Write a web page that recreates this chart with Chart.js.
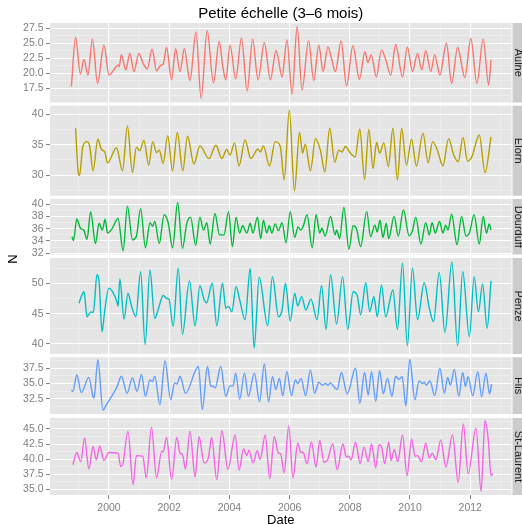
<!DOCTYPE html>
<html>
<head>
<meta charset="utf-8">
<script src="https://cdn.jsdelivr.net/npm/chart.js@4.4.0/dist/chart.umd.min.js"></script>
<style>
  body { margin: 0; background: #fff; width: 522px; height: 524px; overflow: hidden; position: relative; }
  .panel { position: absolute; left: 0; width: 522px; }
</style>
</head>
<body>
<script>
// x axis: decimal years
const yearLabels = [2000, 2002, 2004, 2006, 2008, 2010, 2012];
const yearMinor = [1999, 2001, 2003, 2005, 2007, 2009, 2011, 2013];

// [date, N] (peaks, troughs, shoulders)
const aulne = [[1998.75,17.8],[1998.89,26.0],[1999.05,19.9],[1999.17,22.3],[1999.3,19.7],[1999.45,25.7],[1999.62,18.3],[1999.83,24.7],[2000.0,19.7],[2000.22,21.0],[2000.3,21.4],[2000.34,21.1],[2000.41,23.1],[2000.56,20.55],[2000.69,23.3],[2000.83,20.3],[2000.99,23.3],[2001.13,21.7],[2001.27,20.7],[2001.43,24.0],[2001.58,20.4],[2001.71,21.3],[2001.8,21.5],[2001.91,24.3],[2002.08,18.9],[2002.21,24.1],[2002.36,20.3],[2002.5,24.1],[2002.69,18.8],[2002.89,26.9],[2003.06,15.8],[2003.26,27.1],[2003.47,18.4],[2003.66,25.3],[2003.78,21.1],[2003.88,18.9],[2004.02,24.7],[2004.21,19.05],[2004.4,25.9],[2004.59,17.05],[2004.77,25.7],[2004.95,18.9],[2005.16,25.1],[2005.36,18.9],[2005.55,23.8],[2005.75,19.4],[2005.91,25.55],[2006.08,16.55],[2006.25,27.8],[2006.41,17.2],[2006.63,25.4],[2006.8,18.8],[2006.97,24.7],[2007.11,20.3],[2007.27,24.4],[2007.39,22.5],[2007.52,20.3],[2007.71,25.4],[2007.89,17.9],[2008.1,24.55],[2008.32,19.0],[2008.5,23.6],[2008.6,21.8],[2008.71,23.05],[2008.88,19.4],[2009.05,23.9],[2009.19,22.3],[2009.36,19.7],[2009.52,24.8],[2009.75,19.4],[2009.91,24.4],[2010.08,20.3],[2010.25,23.3],[2010.39,20.55],[2010.52,23.8],[2010.69,20.3],[2010.82,23.05],[2010.99,19.7],[2011.21,25.0],[2011.38,18.3],[2011.58,24.3],[2011.82,19.3],[2012.02,25.8],[2012.22,18.3],[2012.43,25.7],[2012.61,18.05],[2012.69,22.3]];

const elorn = [[1998.89,37.7],[1998.97,30.8],[1999.02,29.9],[1999.13,34.7],[1999.27,35.5],[1999.36,34.7],[1999.47,30.7],[1999.63,35.9],[1999.75,34.2],[1999.86,33.8],[1999.95,32.0],[2000.25,34.5],[2000.45,30.7],[2000.61,38.1],[2000.78,30.4],[2000.91,34.6],[2001.02,34.0],[2001.16,35.7],[2001.32,31.6],[2001.45,35.5],[2001.58,33.7],[2001.67,34.1],[2001.8,31.9],[2001.95,36.5],[2002.11,30.7],[2002.27,37.0],[2002.45,30.7],[2002.61,36.4],[2002.82,31.8],[2003.02,34.8],[2003.32,32.7],[2003.55,34.9],[2003.75,32.7],[2003.91,34.2],[2004.02,33.3],[2004.17,35.3],[2004.32,31.5],[2004.52,35.8],[2004.71,32.7],[2004.95,34.3],[2005.03,33.8],[2005.13,34.8],[2005.33,31.5],[2005.52,35.5],[2005.69,34.7],[2005.82,29.2],[2005.99,40.7],[2006.16,27.4],[2006.33,37.0],[2006.43,33.6],[2006.52,35.1],[2006.69,30.7],[2006.86,36.0],[2007.02,34.1],[2007.17,30.5],[2007.33,37.7],[2007.5,32.1],[2007.63,34.1],[2007.74,33.8],[2007.85,34.7],[2008.02,33.6],[2008.18,33.0],[2008.33,37.6],[2008.49,29.3],[2008.63,37.5],[2008.77,31.1],[2008.89,35.4],[2008.99,33.6],[2009.13,35.3],[2009.28,31.4],[2009.43,37.7],[2009.58,29.2],[2009.72,37.7],[2009.88,31.6],[2010.05,35.9],[2010.21,31.5],[2010.43,36.9],[2010.6,32.0],[2010.75,35.5],[2010.91,34.1],[2011.09,31.5],[2011.28,36.0],[2011.45,33.3],[2011.6,32.2],[2011.76,36.2],[2011.91,32.3],[2012.05,33.0],[2012.3,36.6],[2012.49,30.4],[2012.69,36.3]];

const dourduff = [[1998.77,34.7],[1998.82,34.1],[1998.93,37.6],[1999.05,36.1],[1999.16,35.8],[1999.27,34.3],[1999.39,38.8],[1999.55,33.6],[1999.67,36.9],[1999.78,35.8],[1999.87,37.55],[1999.95,35.3],[2000.1,36.0],[2000.3,37.7],[2000.47,32.4],[2000.61,39.7],[2000.78,34.2],[2000.91,34.8],[2001.05,39.3],[2001.21,32.9],[2001.36,37.0],[2001.45,36.4],[2001.52,37.2],[2001.67,33.6],[2001.83,38.3],[2001.97,36.9],[2002.11,32.9],[2002.28,40.3],[2002.44,32.8],[2002.58,36.8],[2002.71,37.9],[2002.88,33.3],[2003.02,37.9],[2003.14,35.8],[2003.25,37.0],[2003.36,33.5],[2003.52,38.5],[2003.67,35.0],[2003.82,35.0],[2003.97,38.8],[2004.1,33.1],[2004.22,37.9],[2004.34,35.3],[2004.44,36.5],[2004.58,35.3],[2004.69,36.9],[2004.78,35.3],[2004.93,37.9],[2005.04,34.4],[2005.13,37.4],[2005.24,35.3],[2005.32,36.5],[2005.41,35.3],[2005.52,36.8],[2005.63,35.7],[2005.75,37.0],[2005.88,33.7],[2006.02,38.8],[2006.17,34.6],[2006.28,36.3],[2006.37,35.8],[2006.45,36.4],[2006.58,38.3],[2006.75,32.9],[2006.88,38.3],[2007.0,35.3],[2007.07,36.1],[2007.18,34.8],[2007.36,38.0],[2007.51,35.0],[2007.56,35.8],[2007.66,34.4],[2007.8,39.5],[2007.97,32.65],[2008.11,36.5],[2008.22,36.0],[2008.36,33.1],[2008.56,38.8],[2008.69,34.7],[2008.83,36.6],[2008.91,35.5],[2009.0,37.4],[2009.1,34.6],[2009.21,36.9],[2009.29,34.4],[2009.47,38.0],[2009.61,34.8],[2009.78,39.1],[2009.97,34.8],[2010.08,35.7],[2010.19,37.9],[2010.36,33.5],[2010.52,37.0],[2010.64,35.0],[2010.73,37.0],[2010.84,35.3],[2010.98,37.2],[2011.09,35.3],[2011.18,36.6],[2011.26,35.8],[2011.38,38.4],[2011.56,33.4],[2011.71,38.0],[2011.86,34.8],[2011.97,35.3],[2012.13,38.3],[2012.3,33.5],[2012.43,38.0],[2012.54,35.3],[2012.63,36.8],[2012.69,35.8]];

const penze = [[1999.0,46.7],[1999.08,47.8],[1999.17,48.6],[1999.27,44.5],[1999.4,45.3],[1999.48,45.2],[1999.6,51.4],[1999.67,50.3],[1999.77,42.0],[1999.86,45.6],[2000.0,49.2],[2000.12,48.6],[2000.26,47.0],[2000.3,46.2],[2000.36,50.7],[2000.5,44.1],[2000.63,48.35],[2000.74,46.4],[2000.89,44.5],[2001.05,51.9],[2001.2,39.9],[2001.36,52.2],[2001.52,44.2],[2001.63,45.6],[2001.8,48.0],[2001.92,47.5],[2001.99,47.4],[2002.13,42.9],[2002.3,52.5],[2002.44,41.6],[2002.67,50.4],[2002.86,43.0],[2003.02,49.6],[2003.16,47.3],[2003.24,46.8],[2003.43,50.0],[2003.58,43.0],[2003.77,50.0],[2003.88,45.9],[2003.97,46.2],[2004.08,45.3],[2004.22,49.45],[2004.34,47.3],[2004.52,44.0],[2004.69,52.5],[2004.82,39.3],[2004.99,51.0],[2005.27,43.0],[2005.43,51.1],[2005.63,44.5],[2005.75,45.6],[2005.86,50.0],[2006.02,43.8],[2006.17,48.35],[2006.27,46.3],[2006.4,47.8],[2006.54,45.6],[2006.71,47.4],[2006.91,44.0],[2007.06,49.6],[2007.21,42.4],[2007.36,51.4],[2007.56,43.3],[2007.76,51.1],[2007.93,42.4],[2008.11,48.6],[2008.25,47.9],[2008.36,44.8],[2008.53,50.1],[2008.66,45.3],[2008.8,47.8],[2008.91,44.5],[2009.05,49.7],[2009.19,44.5],[2009.43,48.9],[2009.58,42.4],[2009.75,53.3],[2009.91,39.7],[2010.08,52.5],[2010.25,44.0],[2010.47,50.1],[2010.64,45.9],[2010.78,43.7],[2010.97,51.8],[2011.16,41.9],[2011.39,53.5],[2011.58,39.7],[2011.75,51.9],[2011.97,41.2],[2012.13,51.1],[2012.27,45.3],[2012.41,49.9],[2012.56,42.6],[2012.69,50.4]];

const flis = [[1998.75,33.9],[1998.8,33.7],[1998.93,36.4],[1999.08,33.5],[1999.33,36.0],[1999.47,32.8],[1999.5,32.6],[1999.63,38.9],[1999.8,30.6],[1999.89,31.3],[2000.27,34.5],[2000.41,36.2],[2000.6,33.4],[2000.78,35.9],[2000.93,33.7],[2001.08,36.5],[2001.21,32.9],[2001.36,35.6],[2001.44,35.3],[2001.52,36.2],[2001.69,31.5],[2001.86,38.7],[2002.05,32.3],[2002.18,35.1],[2002.26,34.9],[2002.36,36.2],[2002.54,33.4],[2002.97,37.8],[2003.1,30.7],[2003.27,37.8],[2003.38,34.6],[2003.47,34.5],[2003.53,34.3],[2003.71,37.8],[2003.88,32.9],[2004.02,34.6],[2004.12,34.6],[2004.21,36.7],[2004.34,32.4],[2004.5,36.7],[2004.63,32.9],[2004.83,36.7],[2005.0,32.0],[2005.16,38.2],[2005.3,32.0],[2005.43,36.1],[2005.54,34.0],[2005.66,35.85],[2005.77,33.0],[2005.91,36.95],[2006.06,33.0],[2006.19,35.6],[2006.27,35.0],[2006.38,35.85],[2006.53,33.0],[2006.69,37.2],[2006.83,33.4],[2006.97,35.2],[2007.08,34.75],[2007.2,35.0],[2007.27,34.7],[2007.35,35.1],[2007.5,34.3],[2007.58,34.0],[2007.72,36.8],[2007.91,33.3],[2008.19,37.5],[2008.33,31.7],[2008.49,36.8],[2008.61,33.1],[2008.72,36.95],[2008.86,32.1],[2008.99,37.1],[2009.11,33.3],[2009.25,35.85],[2009.4,32.9],[2009.52,36.2],[2009.63,35.7],[2009.74,36.1],[2009.86,31.3],[2009.99,39.0],[2010.16,32.3],[2010.3,35.4],[2010.41,35.0],[2010.47,35.2],[2010.54,34.75],[2010.66,35.4],[2010.82,33.0],[2010.99,37.5],[2011.14,33.4],[2011.25,36.0],[2011.34,34.75],[2011.47,37.3],[2011.62,32.9],[2011.75,36.8],[2011.84,34.5],[2011.93,36.1],[2012.08,33.0],[2012.25,36.95],[2012.38,32.8],[2012.52,36.7],[2012.64,33.3],[2012.71,34.9]];

const stLaurent = [[1998.8,39.1],[1998.93,41.1],[1999.06,39.6],[1999.19,43.5],[1999.33,38.4],[1999.47,42.1],[1999.58,39.9],[1999.69,42.2],[1999.83,39.8],[2000.0,41.1],[2000.3,41.0],[2000.39,38.8],[2000.46,39.2],[2000.63,44.6],[2000.8,35.8],[2000.91,40.6],[2001.12,40.5],[2001.24,36.9],[2001.41,45.3],[2001.58,36.9],[2001.75,41.3],[2001.8,41.2],[2001.91,43.6],[2002.08,36.7],[2002.25,43.6],[2002.36,41.0],[2002.44,40.8],[2002.54,38.4],[2002.69,44.6],[2002.86,37.1],[2002.99,43.7],[2003.16,39.4],[2003.3,40.2],[2003.41,43.6],[2003.58,36.6],[2003.75,44.7],[2003.95,38.3],[2004.19,44.0],[2004.32,38.2],[2004.47,41.7],[2004.58,40.6],[2004.65,41.5],[2004.79,39.4],[2004.92,41.4],[2005.02,40.0],[2005.19,44.0],[2005.34,36.8],[2005.49,43.7],[2005.63,41.0],[2005.7,40.9],[2005.82,37.8],[2005.97,45.5],[2006.11,36.9],[2006.27,42.65],[2006.37,41.1],[2006.44,41.2],[2006.58,39.3],[2006.72,42.9],[2006.88,38.7],[2007.0,43.1],[2007.14,39.5],[2007.26,39.9],[2007.43,42.5],[2007.58,38.3],[2007.77,42.5],[2007.88,40.4],[2007.96,40.5],[2008.04,39.9],[2008.19,42.8],[2008.34,39.3],[2008.47,42.0],[2008.61,39.6],[2008.72,42.5],[2008.86,38.6],[2008.97,42.4],[2009.05,42.1],[2009.16,39.3],[2009.29,42.8],[2009.37,39.8],[2009.48,41.6],[2009.59,39.6],[2009.75,44.0],[2009.9,37.3],[2010.05,43.3],[2010.17,40.5],[2010.25,40.6],[2010.38,39.6],[2010.52,42.65],[2010.64,40.2],[2010.74,41.0],[2010.86,39.9],[2011.02,43.2],[2011.19,38.7],[2011.41,44.0],[2011.6,36.2],[2011.77,45.8],[2011.93,37.6],[2012.19,45.1],[2012.36,34.7],[2012.49,46.4],[2012.6,43.2],[2012.69,37.3],[2012.75,37.6]];

// y tick labels per facet
const aulneTicks = [17.5, 20, 22.5, 25, 27.5];
const elornTicks = [30, 35, 40];
const dourduffTicks = [32, 34, 36, 38, 40];
const penzeTicks = [40, 45, 50];
const flisTicks = [32.5, 35, 37.5];
const stLaurentTicks = [35, 37.5, 40, 42.5, 45];

const FONT = '"Liberation Sans", Arial, Helvetica, sans-serif';
const GREY50 = '#7F7F7F';

// facet layout (pixel rows of each panel, free y scales)
const panels = [
  { name: 'Aulne', data: aulne, ticks: aulneTicks, dec: 1, color: '#F8766D', min: 15.13, max: 28.38, top: 23, bottom: 102.5 },
  { name: 'Elorn', data: elorn, ticks: elornTicks, dec: 0, color: '#B79F00', min: 26.6, max: 41.42, top: 105.7, bottom: 195.7 },
  { name: 'Dourduff', data: dourduff, ticks: dourduffTicks, dec: 0, color: '#00BA38', min: 31.8, max: 40.87, top: 199, bottom: 254.5 },
  { name: 'Penze', data: penze, ticks: penzeTicks, dec: 0, color: '#00BFC4', min: 38.35, max: 54.17, top: 258, bottom: 354 },
  { name: 'Flis', data: flis, ticks: flisTicks, dec: 1, color: '#619CFF', min: 29.98, max: 39.31, top: 357.3, bottom: 414 },
  { name: 'St-Laurent', data: stLaurent, ticks: stLaurentTicks, dec: 1, color: '#F564E3', min: 34.1, max: 46.8, top: 418, bottom: 495.5 }
];

const near = (list, v) => list.some(t => Math.abs(t - v) < 1e-6);

panels.forEach((p, i) => {
  const first = i === 0;
  const last = i === panels.length - 1;
  const divTop = first ? 0 : Math.floor(p.top - 8);
  const divBottom = last ? 524 : Math.ceil(p.bottom + 8);
  const padTop = p.top - divTop;
  const padBottom = last ? 0 : divBottom - p.bottom;

  const div = document.createElement('div');
  div.className = 'panel';
  div.style.top = divTop + 'px';
  div.style.height = (divBottom - divTop) + 'px';
  const canvas = document.createElement('canvas');
  div.appendChild(canvas);
  document.body.appendChild(div);

  const step = p.ticks[1] - p.ticks[0];
  const yVals = p.ticks.slice();
  for (let k = -1; k < p.ticks.length; k++) yVals.push(p.ticks[0] + step * (k + 0.5));
  const yTicks = yVals.filter(v => v >= p.min && v <= p.max).sort((a, b) => a - b);
  const xTicks = yearLabels.concat(yearMinor).sort((a, b) => a - b);

  const facet = {
    id: 'facet' + i,
    beforeDraw(chart) {
      const a = chart.chartArea, ctx = chart.ctx;
      ctx.save();
      ctx.fillStyle = '#E5E5E5';
      ctx.fillRect(a.left, a.top, a.right - a.left, a.bottom - a.top);
      ctx.restore();
    },
    afterDraw(chart) {
      const a = chart.chartArea, ctx = chart.ctx;
      ctx.save();
      // strip
      ctx.fillStyle = '#CCCCCC';
      ctx.fillRect(a.right + 1, a.top, chart.width - a.right, a.bottom - a.top);
      ctx.fillStyle = '#1A1A1A';
      ctx.font = '11px ' + FONT;
      ctx.textAlign = 'center';
      ctx.textBaseline = 'alphabetic';
      ctx.translate(514.5, (a.top + a.bottom) / 2);
      ctx.rotate(Math.PI / 2);
      ctx.fillText(p.name, 0, 0);
      ctx.restore();

      if (first) {
        ctx.save();
        ctx.fillStyle = '#000';
        ctx.font = '15px ' + FONT;
        ctx.textAlign = 'center';
        ctx.fillText('Petite échelle (3–6 mois)', (a.left + a.right) / 2, 18);
        ctx.restore();
      }
      if (p.name === 'Penze') {
        ctx.save();
        ctx.fillStyle = '#000';
        ctx.font = '13px ' + FONT;
        ctx.textAlign = 'center';
        ctx.translate(17, 259 - divTop);
        ctx.rotate(-Math.PI / 2);
        ctx.fillText('N', 0, 0);
        ctx.restore();
      }
      if (last) {
        ctx.save();
        ctx.fillStyle = '#000';
        ctx.font = '13px ' + FONT;
        ctx.textAlign = 'center';
        ctx.fillText('Date', (a.left + a.right) / 2, 524 - divTop);
        ctx.restore();
      }
    }
  };

  new Chart(canvas, {
    type: 'line',
    data: {
      datasets: [{
        data: p.data.map(d => ({ x: d[0], y: d[1] })),
        borderColor: p.color,
        borderWidth: 1.4,
        pointRadius: 0,
        cubicInterpolationMode: 'monotone',
        fill: false
      }]
    },
    options: {
      responsive: true,
      maintainAspectRatio: false,
      animation: false,
      devicePixelRatio: 1,
      layout: { padding: { top: padTop, bottom: padBottom, left: 0, right: 10.5 } },
      plugins: { legend: { display: false }, tooltip: { enabled: false } },
      scales: {
        x: {
          type: 'linear',
          min: 1998.04,
          max: 2013.37,
          afterBuildTicks: s => { s.ticks = xTicks.map(v => ({ value: v })); },
          afterFit: s => { s.height = last ? 29 : 0; s.paddingLeft = 0; s.paddingRight = 0; },
          border: { display: false },
          grid: {
            color: c => near(yearLabels, c.tick.value) ? '#FFFFFF' : '#F2F2F2',
            lineWidth: c => near(yearLabels, c.tick.value) ? 1.1 : 0.6,
            drawTicks: last,
            tickLength: 4,
            tickColor: c => near(yearLabels, c.tick.value) ? GREY50 : 'rgba(0,0,0,0)',
            tickWidth: 1
          },
          ticks: {
            display: last,
            autoSkip: false,
            maxRotation: 0,
            padding: 3,
            color: GREY50,
            font: { family: FONT, size: 10.5 },
            callback: v => near(yearLabels, v) ? String(v) : ''
          }
        },
        y: {
          min: p.min,
          max: p.max,
          afterBuildTicks: s => { s.ticks = yTicks.map(v => ({ value: v })); },
          afterFit: s => { s.width = 50; s.paddingTop = 0; s.paddingBottom = 0; },
          border: { display: false },
          grid: {
            color: c => near(p.ticks, c.tick.value) ? '#FFFFFF' : '#F2F2F2',
            lineWidth: c => near(p.ticks, c.tick.value) ? 1.1 : 0.6,
            tickLength: 4,
            tickColor: c => near(p.ticks, c.tick.value) ? GREY50 : 'rgba(0,0,0,0)',
            tickWidth: 1
          },
          ticks: {
            autoSkip: false,
            padding: 2.5,
            color: GREY50,
            font: { family: FONT, size: 10.5 },
            callback: v => near(p.ticks, v) ? v.toFixed(p.dec) : ''
          }
        }
      }
    },
    plugins: [facet]
  });
});
</script>
</body>
</html>
